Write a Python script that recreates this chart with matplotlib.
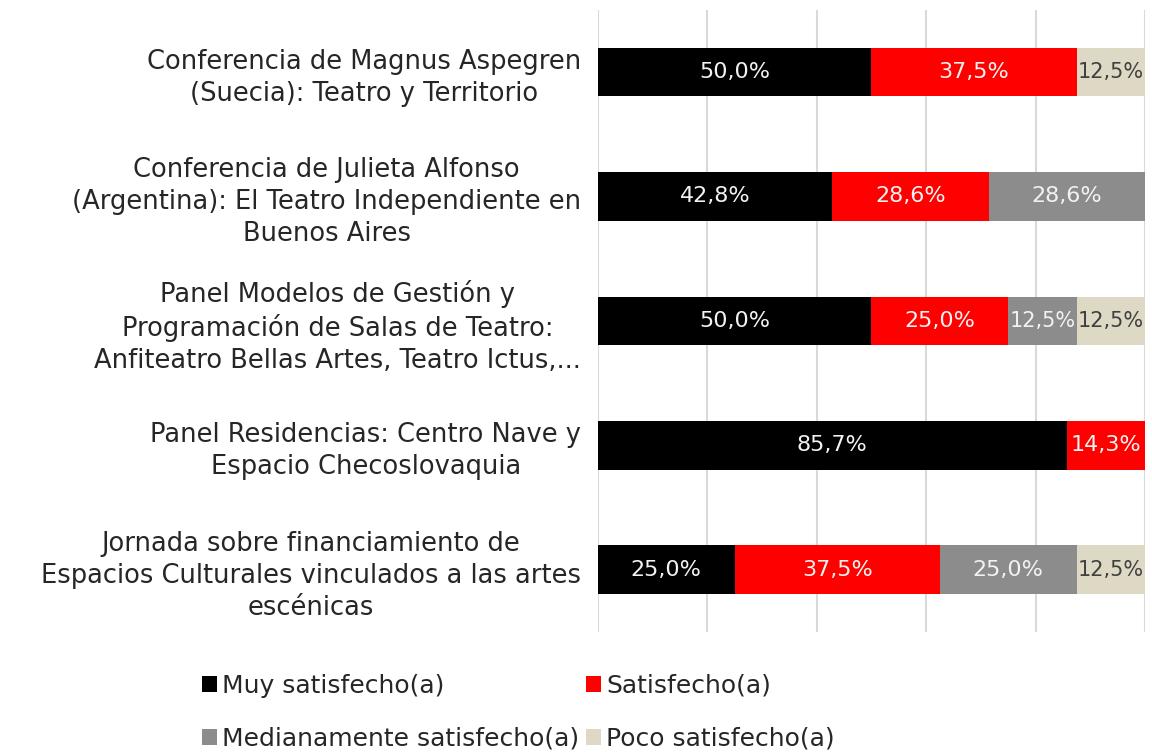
import numpy as np
import matplotlib.pyplot as plt

plt.rcParams['font.family'] = ['DejaVu Sans']

categorias = [
    "Conferencia de Magnus Aspegren\n(Suecia): Teatro y Territorio",
    "Conferencia de Julieta Alfonso\n(Argentina): El Teatro Independiente en\nBuenos Aires",
    "Panel Modelos de Gestión y\nProgramación de Salas de Teatro:\nAnfiteatro Bellas Artes, Teatro Ictus,...",
    "Panel Residencias: Centro Nave y\nEspacio Checoslovaquia",
    "Jornada sobre financiamiento de\nEspacios Culturales vinculados a las artes\nescénicas",
]
series = ["Muy satisfecho(a)", "Satisfecho(a)",
          "Medianamente satisfecho(a)", "Poco satisfecho(a)"]
muy = [50.0, 42.8, 50.0, 85.7, 25.0]
satis = [37.5, 28.6, 25.0, 14.3, 37.5]
mediana = [0.0, 28.6, 12.5, 0.0, 25.0]
poco = [12.5, 0.0, 12.5, 0.0, 12.5]

colores = ['#000000', '#FF0000', '#8C8C8C', '#DDD9C4']
color_texto = ['#F2F2F2', '#F2F2F2', '#F2F2F2', '#404040']

fig = plt.figure(figsize=(11.52, 7.55), dpi=100)
ax = fig.add_axes([0.519, 0.163, 0.475, 0.824])

y = np.arange(len(categorias))
izq = np.zeros(len(categorias))
barras = []
for nombre, vals, c, tc in zip(series, [muy, satis, mediana, poco], colores, color_texto):
    vals = np.array(vals)
    b = ax.barh(y, vals, left=izq, height=0.39, color=c, label=nombre, zorder=2)
    barras.append(b)
    for yi, v, l in zip(y, vals, izq):
        if v > 0:
            ax.text(l + v / 2, yi, f"{v:.1f}%".replace('.', ','), ha='center', va='center',
                    color=tc, fontsize=16 if v > 13 else 15, zorder=3)
    izq += vals

ax.set_xlim(0, 100)
ax.set_ylim(len(categorias) - 0.5, -0.5)
ax.set_xticks(np.arange(0, 101, 20))
ax.set_xticklabels([])
ax.tick_params(axis='x', length=0)
ax.tick_params(axis='y', length=0, pad=12)
ax.set_yticks(y)
ax.set_yticklabels(categorias, fontsize=18.5, color='#262626', multialignment='center',
                   linespacing=1.3)
ax.grid(axis='x', color='#D9D9D9', linewidth=1.5, zorder=0)
for s in ax.spines.values():
    s.set_visible(False)

# orden por filas como en la referencia
orden = [0, 2, 1, 3]
fig.legend([barras[i] for i in orden], [series[i] for i in orden],
           loc='lower center', bbox_to_anchor=(0.45, -0.024), ncol=2, frameon=False,
           fontsize=18, handlelength=0.6, handleheight=0.6, handletextpad=0.2,
           columnspacing=0.3, labelspacing=1.15, labelcolor='#262626')

fig.savefig('out.png', dpi=100)
